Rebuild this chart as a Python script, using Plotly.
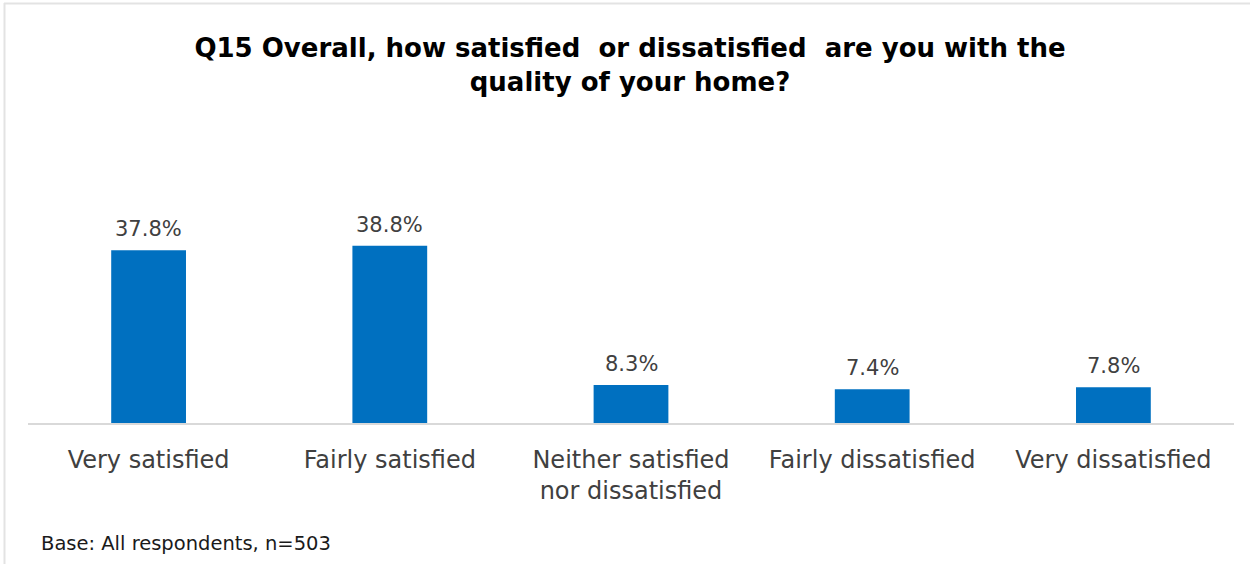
import plotly.graph_objects as go

# Survey results for Q15
categories = [
    "Very satisfied",
    "Fairly satisfied",
    "Neither satisfied<br>nor dissatisfied",
    "Fairly dissatisfied",
    "Very dissatisfied",
]
percentages = [37.8, 38.8, 8.3, 7.4, 7.8]
labels = [f"{v:.1f}%" for v in percentages]

title_text = ("<b>Q15 Overall, how satisfied  or dissatisfied  are you with the"
              "<br>quality of your home?</b>")
base_note = "Base: All respondents, n=503"

FONT = "DejaVu Sans, Noto Sans, sans-serif"
W, H = 1250, 564
L, R, T, B = 28, 16, 200, 141

fig = go.Figure(
    go.Bar(
        x=categories,
        y=percentages,
        marker=dict(color="#0070C0", line=dict(width=0)),
        width=0.31,
        hoverinfo="x+y",
    )
)

# value labels above each bar
for cat, val, lab in zip(categories, percentages, labels):
    fig.add_annotation(
        x=cat, y=val, text=lab, showarrow=False,
        xanchor="center", yanchor="bottom", yshift=7,
        font=dict(size=21, color="#404040", family=FONT),
    )

fig.update_layout(
    width=W,
    height=H,
    autosize=False,
    margin=dict(l=L, r=R, t=T, b=B),
    paper_bgcolor="white",
    plot_bgcolor="white",
    showlegend=False,
    font=dict(family=FONT, color="#404040"),
    title=dict(
        text=title_text,
        x=0.504,
        xanchor="center",
        y=1 - 57 / H,
        yanchor="top",
        font=dict(size=26, color="#000000", family=FONT),
    ),
    xaxis=dict(
        showgrid=False,
        showline=True,
        linecolor="#d9d9d9",
        linewidth=2,
        ticks="",
        ticklabelstandoff=14,
        tickfont=dict(size=24, color="#404040", family=FONT),
        fixedrange=True,
    ),
    yaxis=dict(
        range=[0, 48.8],
        visible=False,
        showgrid=False,
        zeroline=False,
        fixedrange=True,
    ),
)

# footnote below the axis
pw = W - L - R
ph = H - T - B

def px_x(p):
    return (p - L) / pw

def px_y(p):
    return (H - B - p) / ph

fig.add_annotation(
    text=base_note,
    xref="paper",
    yref="paper",
    x=px_x(39),
    y=px_y(543),
    xanchor="left",
    yanchor="middle",
    showarrow=False,
    font=dict(size=19.5, color="#1a1a1a", family=FONT),
)

# thin frame along the top and left edges
fig.add_shape(type="line", xref="paper", yref="paper",
              x0=px_x(4), x1=px_x(W), y0=px_y(3.5), y1=px_y(3.5),
              line=dict(color="#e3e3e3", width=2))
fig.add_shape(type="line", xref="paper", yref="paper",
              x0=px_x(4.5), x1=px_x(4.5), y0=px_y(3), y1=px_y(H),
              line=dict(color="#e3e3e3", width=2))

fig.write_html("out.html")
